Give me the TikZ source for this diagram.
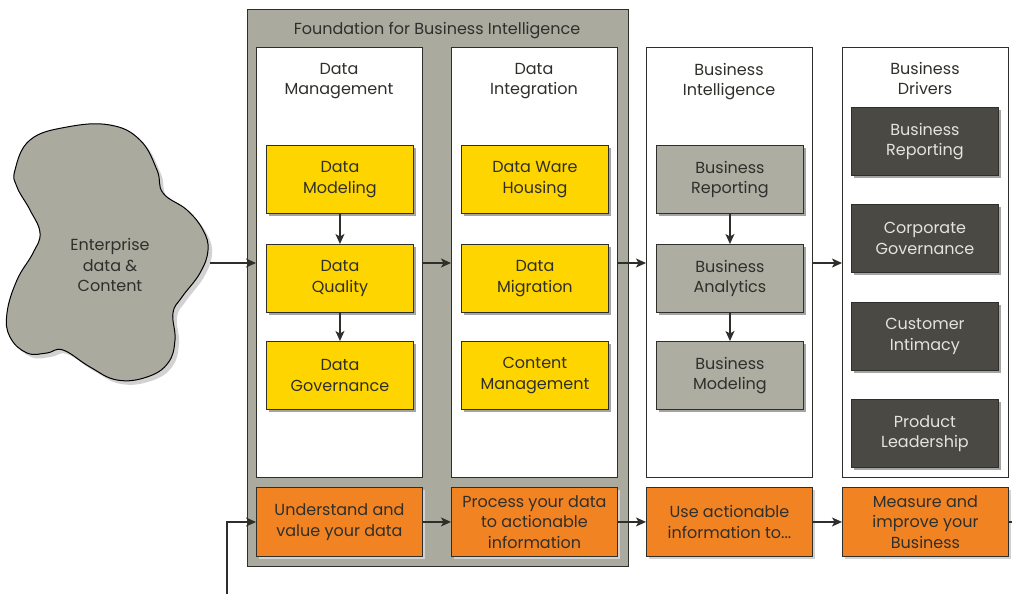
\documentclass[tikz,border=0pt]{standalone}
\usepackage{fontspec}
\setmainfont{Poppins}
\usetikzlibrary{shadows,arrows.meta}

\definecolor{panelgray}{HTML}{ABAA9F}
\definecolor{bigray}{HTML}{AEADA2}
\definecolor{darkbox}{HTML}{4A4943}
\definecolor{yel}{HTML}{FFD500}
\definecolor{orng}{HTML}{F28323}
\definecolor{edge}{HTML}{2E2E2A}
\definecolor{ink}{HTML}{2F2F2B}
\definecolor{lightink}{HTML}{E4E4DE}
\definecolor{shade}{HTML}{A4A4A4}
\definecolor{paleshade}{HTML}{D2D2D2}

\newcommand{\lbl}{\fontsize{16}{20.5}\selectfont}

\tikzset{
  shd/.style={drop shadow={shadow xshift=3pt, shadow yshift=-3pt, fill=#1, opacity=1}},
  box/.style={draw=edge, line width=0.9pt, minimum width=147pt, minimum height=68pt,
              inner sep=0pt, align=center, anchor=north west, font=\lbl, text=ink},
  yelbox/.style={box, fill=yel, shd=shade},
  gbox/.style={box, fill=bigray, shd=shade},
  dbox/.style={box, fill=darkbox, text=lightink, shd=shade},
  obox/.style={box, fill=orng, minimum width=166pt, minimum height=69pt, shd=paleshade},
  column/.style={draw=edge, line width=0.9pt, fill=white, minimum width=166pt,
                 minimum height=430pt, inner sep=0pt, anchor=north west},
  coltitle/.style={font=\lbl, text=ink, align=center, anchor=north, inner sep=0pt},
  flow/.style={draw=edge, line width=1.2pt, -{Stealth[length=10pt, width=9pt, inset=2.5pt]}},
  plain/.style={draw=edge, line width=1.2pt}
}

\begin{document}
\begin{tikzpicture}[x=1pt, y=-1pt]
\useasboundingbox (0,0) rectangle (1012,594);

% enterprise data cloud
\fill[paleshade, shift={(4pt,-4pt)}] plot[smooth cycle, tension=0.7] coordinates {
 (15,170) (30,140) (67,127) (110,125) (140,140) (157,170) (163,193) (187,210)
 (203,230) (208,250) (200,273) (182,297) (173,313) (175,340) (168,363) (147,377)
 (117,380) (90,367) (63,350) (47,353) (27,353) (10,337) (7,313) (17,280)
 (33,253) (40,233) (30,210) (17,187)};
\draw[fill=panelgray, draw=black, line width=1pt] plot[smooth cycle, tension=0.7] coordinates {
 (15,170) (30,140) (67,127) (110,125) (140,140) (157,170) (163,193) (187,210)
 (203,230) (208,250) (200,273) (182,297) (173,313) (175,340) (168,363) (147,377)
 (117,380) (90,367) (63,350) (47,353) (27,353) (10,337) (7,313) (17,280)
 (33,253) (40,233) (30,210) (17,187)};
\node[font=\lbl, text=ink, align=center] (cloud) at (110,265) {Enterprise\\data \&\\Content};
\coordinate (cloudout) at (210,263);

% foundation panel
\node[draw=edge, line width=1.2pt, fill=panelgray, minimum width=381pt, minimum height=557pt,
      inner sep=0pt, anchor=north west] (found) at (247,9) {};
\node[font=\lbl, text=ink, anchor=center] (foundt) at (437,31) {Foundation for Business Intelligence};

% columns
\node[column] (dm) at (256,47) {};
\node[column] (di) at (451,47) {};
\node[column] (bi) at (646,47) {};
\node[column] (bd) at (842,47) {};
\node[coltitle] (dmt) at (339,63) {Data\\Management};
\node[coltitle] (dit) at (534,63) {Data\\Integration};
\node[coltitle] (bit) at (729,63) {Business\\Intelligence};
\node[coltitle] (bdt) at (925,62) {Business\\Drivers};

% data management
\node[yelbox] (dmod) at (266,145) {Data\\Modeling};
\node[yelbox] (dq)   at (266,244) {Data\\Quality};
\node[yelbox] (dgov) at (266,341) {Data\\Governance};
% data integration
\node[yelbox] (dwh)  at (461,145) {Data Ware\\Housing};
\node[yelbox] (dmig) at (461,244) {Data\\Migration};
\node[yelbox] (cm)   at (461,341) {Content\\Management};
% business intelligence
\node[gbox] (brep) at (656,145) {Business\\Reporting};
\node[gbox] (bana) at (656,244) {Business\\Analytics};
\node[gbox] (bmod) at (656,341) {Business\\Modeling};
% business drivers
\node[dbox] (drep) at (851,107) {Business\\Reporting};
\node[dbox] (cgov) at (851,204) {Corporate\\Governance};
\node[dbox] (cint) at (851,302) {Customer\\Intimacy};
\node[dbox] (plead) at (851,399) {Product\\Leadership};

% bottom row
\node[obox] (o1) at (256,487) {Understand and\\value your data};
\node[obox] (o2) at (451,487) {Process your data\\to actionable\\information};
\node[obox] (o3) at (646,487) {Use actionable\\information to...};
\node[obox] (o4) at (842,487) {Measure and\\improve your\\Business};

% vertical flows
\draw[flow] (dmod) -- (dq);
\draw[flow] (dq) -- (dgov);
\draw[flow] (brep) -- (bana);
\draw[flow] (bana) -- (bmod);

% horizontal flows between columns
\draw[flow] (cloudout) -- (cloudout -| dm.west);
\draw[flow] (dm.east |- cloudout) -- (di.west |- cloudout);
\draw[flow] (di.east |- cloudout) -- (bi.west |- cloudout);
\draw[flow] (bi.east |- cloudout) -- (bd.west |- cloudout);

% bottom flows
\coordinate (fbstart) at (227,594);
\coordinate (fbturn) at (227,522);
\coordinate (exitr) at (1012,522);
\draw[flow] (fbstart) -- (fbturn) -- (fbturn -| o1.west);
\draw[flow] (o1) -- (o2);
\draw[flow] (o2) -- (o3);
\draw[flow] (o3) -- (o4);
\draw[plain] (o4.east |- exitr) -- (exitr);
\end{tikzpicture}
\end{document}
